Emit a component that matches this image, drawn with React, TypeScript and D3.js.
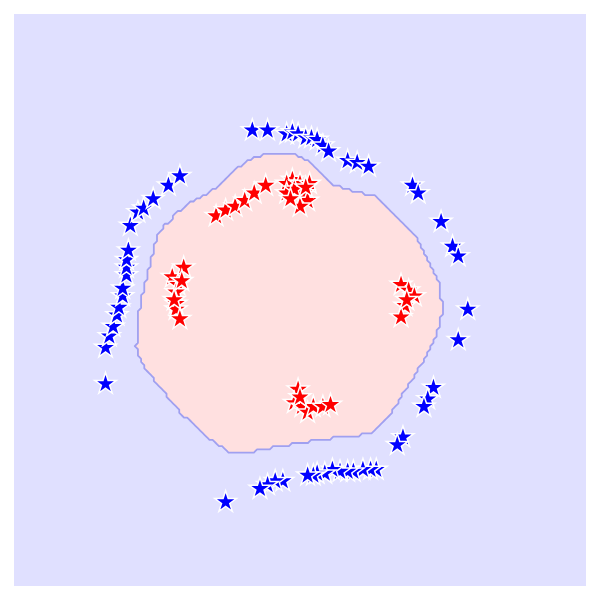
import React, { useEffect, useRef } from 'react';
import * as d3 from 'd3';

// outer ring (class 0) – blue stars
const blueX = [-0.25, -0.17, -0.07, -0.04, -0.01, 0.03, 0.06, 0.09, 0.12, 0.15, 0.25, 0.30, 0.36,
  0.59, 0.62, 0.74, 0.80, 0.83, 0.88, 0.83, 0.70, 0.67, 0.65, 0.54, 0.51,
  0.40, 0.37, 0.33, 0.28, 0.25, 0.21, 0.17, 0.13, 0.09, 0.07, 0.04, -0.09, -0.13, -0.17, -0.21, -0.39,
  -1.02, -1.02, -1.00, -0.98, -0.96, -0.95, -0.93, -0.93, -0.91, -0.91, -0.91, -0.90,
  -0.89, -0.85, -0.82, -0.77, -0.69, -0.63];
const blueY = [0.89, 0.89, 0.87, 0.88, 0.87, 0.85, 0.85, 0.84, 0.81, 0.78, 0.73, 0.72, 0.70,
  0.60, 0.56, 0.41, 0.28, 0.23, -0.05, -0.21, -0.46, -0.52, -0.56, -0.72, -0.76,
  -0.89, -0.89, -0.89, -0.90, -0.90, -0.90, -0.89, -0.91, -0.91, -0.92, -0.92, -0.95, -0.95, -0.97, -0.99, -1.06,
  -0.44, -0.25, -0.19, -0.14, -0.08, -0.04, 0.02, 0.06, 0.13, 0.17, 0.21, 0.26,
  0.39, 0.46, 0.48, 0.53, 0.60, 0.65];

// inner clusters (class 1) – red stars
const redX = [-0.44, -0.39, -0.34, -0.29, -0.24, -0.18,
  -0.04, -0.07, 0.00, 0.05, -0.07, 0.02, 0.04, 0.00, -0.03, 0.03, -0.05,
  -0.61, -0.67, -0.64, -0.65, -0.65, -0.65, -0.63, -0.66, -0.62,
  0.53, 0.57, 0.60, 0.55, 0.53, 0.56,
  -0.01, -0.03, 0.01, 0.04, 0.07, 0.12, 0.16, 0.00];
const redY = [0.44, 0.47, 0.49, 0.52, 0.56, 0.60,
  0.63, 0.61, 0.61, 0.61, 0.56, 0.56, 0.52, 0.49, 0.58, 0.59, 0.53,
  0.17, 0.12, 0.08, 0.04, -0.02, -0.05, -0.10, 0.00, 0.10,
  0.08, 0.05, 0.02, -0.03, -0.09, 0.00,
  -0.47, -0.54, -0.56, -0.59, -0.56, -0.56, -0.55, -0.51];

// decision boundary of the classifier
const edgeX = [-0.19, -0.02, 0.05, 0.16, 0.32, 0.40, 0.49, 0.61, 0.68, 0.73, 0.75, 0.72, 0.63, 0.56,
  0.47, 0.38, 0.30, 0.12, -0.12, -0.28, -0.37, -0.47, -0.63, -0.73, -0.82, -0.86, -0.84, -0.80,
  -0.75, -0.72, -0.61, -0.52, -0.44, -0.32, -0.23];
const edgeY = [0.76, 0.76, 0.73, 0.61, 0.56, 0.54, 0.46, 0.33, 0.19, 0.09, -0.05, -0.17, -0.35, -0.46,
  -0.61, -0.70, -0.71, -0.73, -0.77, -0.80, -0.80, -0.73, -0.59, -0.46, -0.35, -0.25, -0.04, 0.14,
  0.33, 0.38, 0.49, 0.54, 0.59, 0.70, 0.75];

const domain: [number, number] = [-1.5, 1.5];

const App = () => {
  const svgRef = useRef<SVGSVGElement>(null);

  useEffect(() => {
    const width = 600;
    const height = 600;
    const svg = d3.select(svgRef.current).attr('width', width).attr('height', height);
    svg.selectAll('*').remove();

    const x = d3.scaleLinear().domain(domain).range([14, 586]);
    const y = d3.scaleLinear().domain(domain).range([586, 14]);

    svg.append('rect')
      .attr('x', x(domain[0])).attr('y', y(domain[1]))
      .attr('width', x(domain[1]) - x(domain[0]))
      .attr('height', y(domain[0]) - y(domain[1]))
      .attr('fill', '#e0e0ff');

    // rasterise the boundary on a coarse grid, like a mesh prediction
    const poly = edgeX.map((v, i) => [v, edgeY[i]] as [number, number]);
    const n = 180;
    const step = (domain[1] - domain[0]) / n;
    const grid = new Array(n * n);
    for (let j = 0; j < n; j++) {
      for (let i = 0; i < n; i++) {
        const gx = domain[0] + (i + 0.5) * step;
        const gy = domain[1] - (j + 0.5) * step;
        grid[i + j * n] = d3.polygonContains(poly, [gx, gy]) ? 1 : 0;
      }
    }
    const contours = d3.contours().size([n, n]).smooth(false).thresholds([0.5])(grid);
    const toPx = (p: number[]) => [x(domain[0] + p[0] * step), y(domain[1] - p[1] * step)];
    const pathStr = contours[0].coordinates
      .map(polygon => polygon
        .map(ring => 'M' + ring.map(p => toPx(p).join(',')).join('L') + 'Z')
        .join(''))
      .join('');

    svg.append('path')
      .attr('d', pathStr)
      .attr('fill', '#ffe0e0')
      .attr('stroke', '#a0a0f0')
      .attr('stroke-width', 1.8)
      .attr('stroke-linejoin', 'round');

    const star = d3.symbol().type(d3.symbolStar).size(145);

    const drawStars = (xs: number[], ys: number[], color: string) => {
      svg.append('g')
        .selectAll('path')
        .data(xs.map((v, i) => [v, ys[i]]))
        .enter().append('path')
        .attr('d', star)
        .attr('transform', d => `translate(${x(d[0])},${y(d[1])})`)
        .attr('fill', color)
        .attr('stroke', 'white')
        .attr('stroke-width', 1.5)
        .attr('stroke-linejoin', 'miter');
    };

    drawStars(blueX, blueY, '#0000ff');
    drawStars(redX, redY, '#ff0000');
  }, []);

  return (
    <svg ref={svgRef} style={{ position: 'absolute', left: 0, top: 0 }}></svg>
  );
};

export default App;
